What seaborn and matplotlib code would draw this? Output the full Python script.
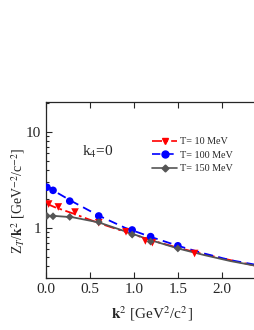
import numpy as np
import seaborn as sns
import matplotlib.pyplot as plt
from matplotlib.ticker import LogLocator, NullFormatter

# curves (k^2 in GeV^2/c^2, Z_T/k^2 in GeV^-2/c^-2)
k2_line = [0.0, 0.1, 0.3, 0.6, 0.9, 1.2, 1.5, 1.8, 2.1, 2.4]
z_t10_line = [1.80, 1.64, 1.42, 1.12, 0.91, 0.74, 0.62, 0.53, 0.46, 0.40]
z_t100_line = [2.80, 2.40, 1.88, 1.34, 1.00, 0.80, 0.65, 0.54, 0.46, 0.41]
z_t150_line = [1.34, 1.33, 1.29, 1.14, 0.92, 0.74, 0.61, 0.52, 0.45, 0.40]

# symbols
k2_t10 = [0.03, 0.14, 0.33, 0.60, 0.91, 1.13, 1.21, 1.69]
z_t10 = [1.77, 1.65, 1.46, 1.13, 0.91, 0.73, 0.70, 0.54]
k2_t100 = [0.01, 0.08, 0.27, 0.60, 0.98, 1.19, 1.50]
z_t100 = [2.65, 2.46, 1.90, 1.33, 0.95, 0.81, 0.65]
k2_t150 = [0.01, 0.08, 0.27, 0.60, 0.98, 1.19, 1.50]
z_t150 = [1.33, 1.32, 1.30, 1.15, 0.85, 0.72, 0.61]

labels = ["T= 10 MeV", "T= 100 MeV", "T= 150 MeV"]

sns.set_style("ticks")
plt.rcParams["font.family"] = ["Liberation Serif", "DejaVu Serif"]
plt.rcParams["mathtext.fontset"] = "stix"

fig = plt.figure(figsize=(2.55, 3.3), dpi=100)
ax = fig.add_axes([46 / 255, 52 / 330, 211 / 255, 176 / 330])

sns.lineplot(x=k2_line, y=z_t10_line, ax=ax, color="red", linestyle=(0, (6, 2, 1.5, 2)), lw=1.3)
sns.lineplot(x=k2_line, y=z_t100_line, ax=ax, color="blue", linestyle=(0, (5, 3)), lw=1.3)
sns.lineplot(x=k2_line, y=z_t150_line, ax=ax, color="#555555", linestyle="-", lw=1.3)
sns.scatterplot(x=k2_t10, y=z_t10, ax=ax, color="red", marker="v", s=30, edgecolor="none", zorder=3)
sns.scatterplot(x=k2_t100, y=z_t100, ax=ax, color="blue", marker="o", s=30, edgecolor="none", zorder=3)
sns.scatterplot(x=k2_t150, y=z_t150, ax=ax, color="#555555", marker="D", s=16, edgecolor="none", zorder=3)

# legend proxies
h1, = ax.plot([], [], color="red", linestyle=(0, (6, 2, 1.5, 2)), marker="v", ms=5, lw=1.2)
h2, = ax.plot([], [], color="blue", linestyle=(0, (5, 3)), marker="o", ms=5, lw=1.2)
h3, = ax.plot([], [], color="#555555", linestyle="-", marker="D", ms=3.5, lw=1.2)
ax.legend([h1, h2, h3], labels, loc="upper left", bbox_to_anchor=(0.48, 0.83),
          frameon=False, fontsize=7.3, handlelength=2.4, handletextpad=0.35,
          labelspacing=0.45, borderpad=0)

ax.text(0.41, 6.2, r"k$_4$=0", fontsize=11, va="center")

ax.set_yscale("log")
ax.set_xlim(0, 2.4)
ax.set_ylim(0.3, 20.5)
ax.yaxis.set_minor_locator(LogLocator(base=10, subs=np.arange(2, 10), numticks=12))
ax.yaxis.set_minor_formatter(NullFormatter())
ax.set_yticks([1, 10])
ax.set_yticklabels(["1", "10"])
ax.set_xticks([0.0, 0.5, 1.0, 1.5, 2.0])
ax.set_xticklabels(["0.0", "0.5", "1.0", "1.5", "2.0"])
ax.tick_params(which="both", direction="in", top=True, labelsize=11, width=0.8)
ax.tick_params(which="major", length=4)
ax.tick_params(which="minor", length=2, top=False)
for sp in ax.spines.values():
    sp.set_linewidth(0.9)

ax.set_xlabel(r"$\mathbf{k}^2$ [GeV$^2$/c$^2$]", fontsize=11, labelpad=6)
ax.set_ylabel(r"Z$_T$/$\mathbf{k}^2$ [GeV$^{-2}$/c$^{-2}$]", fontsize=10)
ax.yaxis.set_label_coords(-0.09, 0.44)

fig.savefig("out.png", dpi=100)
